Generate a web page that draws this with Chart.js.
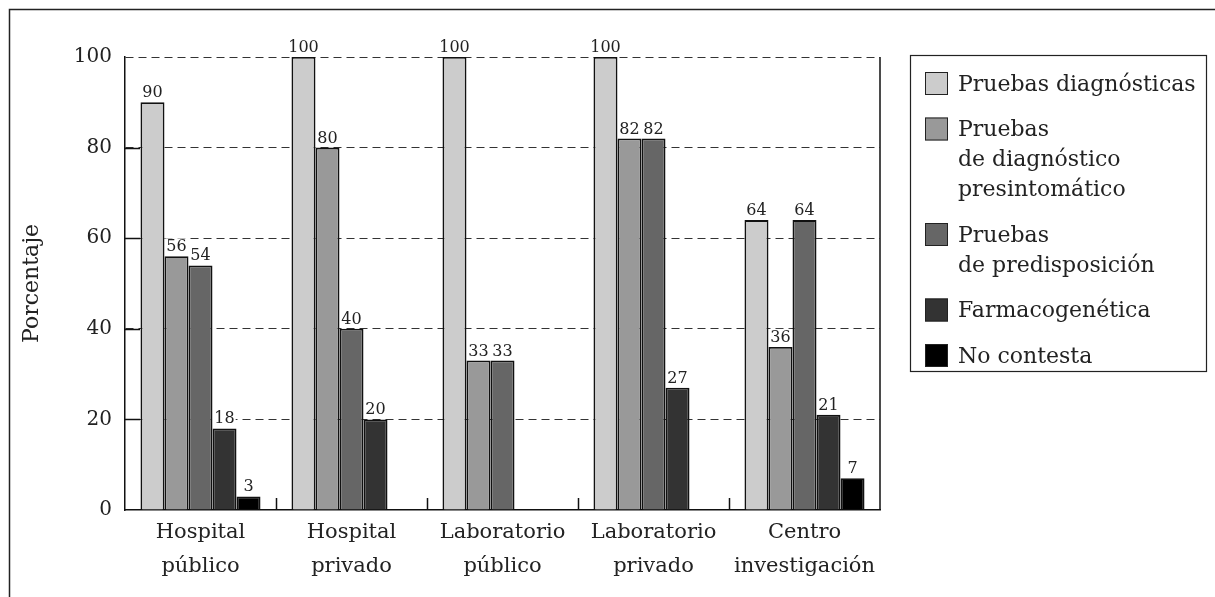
<!DOCTYPE html>
<html lang="es">
<head>
<meta charset="UTF-8" />
<title>Pruebas genéticas por centro</title>
<script src="https://cdn.jsdelivr.net/npm/chart.js"></script>
<style>
  html, body { margin: 0; padding: 0; background: #fff; }
  #wrap { width: 1215px; height: 597px; }
</style>
</head>
<body>
<div id="wrap"><canvas id="grafico" width="1215" height="597"></canvas></div>
<script>
// datos
const categorias = [
    ['Hospital', 'público'],
    ['Hospital', 'privado'],
    ['Laboratorio', 'público'],
    ['Laboratorio', 'privado'],
    ['Centro', 'investigación']
];
const leyenda = [
    ['Pruebas diagnósticas'],
    ['Pruebas', 'de diagnóstico', 'presintomático'],
    ['Pruebas', 'de predisposición'],
    ['Farmacogenética'],
    ['No contesta']
];
const pruebasDiagnosticas   = [90, 100, 100, 100, 64];
const pruebasPresintomatico = [56, 80, 33, 82, 36];
const pruebasPredisposicion = [54, 40, 33, 82, 64];
const farmacogenetica       = [18, 20, 0, 27, 21];
const noContesta            = [3, 0, 0, 0, 7];
const marcasY = [0, 20, 40, 60, 80, 100];

const colores = ['#cccccc', '#999999', '#666666', '#333333', '#000000'];
const valores = [pruebasDiagnosticas, pruebasPresintomatico, pruebasPredisposicion, farmacogenetica, noContesta];
const FUENTE = '"DejaVu Serif", serif';

// marco exterior, marcas interiores y borde derecho
const marcos = {
    id: 'marcos',
    beforeDraw(chart) {
        const ctx = chart.ctx;
        ctx.save();
        ctx.strokeStyle = '#222';
        ctx.lineWidth = 1.5;
        ctx.beginPath();
        ctx.moveTo(9.5, 700);
        ctx.lineTo(9.5, 9.5);
        ctx.lineTo(1300, 9.5);
        ctx.stroke();
        ctx.restore();
    },
    afterDraw(chart) {
        const ctx = chart.ctx, a = chart.chartArea;
        const y = chart.scales.y;
        ctx.save();
        ctx.strokeStyle = '#111';
        ctx.lineWidth = 1.5;
        ctx.beginPath();
        // borde derecho
        ctx.moveTo(a.right, a.top);
        ctx.lineTo(a.right, a.bottom);
        // marcas en Y hacia dentro
        marcasY.forEach(v => {
            if (v === 0 || v === 100) return;
            const py = Math.round(y.getPixelForValue(v)) + 0.5;
            ctx.moveTo(a.left, py);
            ctx.lineTo(a.left + 15, py);
        });
        // separadores entre categorias
        const paso = (a.right - a.left) / categorias.length;
        for (let i = 1; i < categorias.length; i++) {
            const px = Math.round(a.left + paso * i) + 0.5;
            ctx.moveTo(px, a.bottom);
            ctx.lineTo(px, a.bottom - 12);
        }
        ctx.stroke();
        ctx.restore();
    }
};

// etiquetas de valor sobre cada barra
const etiquetas = {
    id: 'etiquetas',
    afterDatasetsDraw(chart) {
        const ctx = chart.ctx;
        ctx.save();
        ctx.font = '16px ' + FUENTE;
        ctx.textAlign = 'center';
        ctx.textBaseline = 'alphabetic';
        chart.data.datasets.forEach((ds, i) => {
            chart.getDatasetMeta(i).data.forEach((bar, j) => {
                const v = ds.data[j];
                if (!v) return;
                const t = String(v);
                const w = ctx.measureText(t).width;
                const by = bar.y - 5;
                ctx.fillStyle = '#fff';
                ctx.fillRect(bar.x - w / 2 - 1, by - 13, w + 2, 14);
                ctx.fillStyle = '#222';
                ctx.fillText(t, bar.x, by);
            });
        });
        ctx.restore();
    }
};

// leyenda en recuadro con textos de varias lineas
const leyendaCaja = {
    id: 'leyendaCaja',
    afterDraw(chart) {
        const ctx = chart.ctx;
        const bx = 910.5, by = 55.5, bw = 296, bh = 316;
        ctx.save();
        ctx.strokeStyle = '#222';
        ctx.lineWidth = 1.2;
        ctx.strokeRect(bx, by, bw, bh);
        ctx.font = '22px ' + FUENTE;
        ctx.textBaseline = 'middle';
        ctx.textAlign = 'left';
        let cy = 83;
        const lh = 30, hueco = 15.5;
        chart.data.datasets.forEach((ds, i) => {
            ctx.fillStyle = ds.backgroundColor;
            ctx.fillRect(925, cy - 11, 23, 23);
            ctx.strokeStyle = '#222';
            ctx.lineWidth = 1;
            ctx.strokeRect(925.5, cy - 10.5, 22, 22);
            ctx.fillStyle = '#222';
            leyenda[i].forEach((linea, k) => {
                ctx.fillText(linea, 958, cy + 2 + k * lh);
            });
            cy += leyenda[i].length * lh + hueco;
        });
        ctx.restore();
    }
};

new Chart(document.getElementById('grafico').getContext('2d'), {
    type: 'bar',
    data: {
        labels: categorias,
        datasets: valores.map((d, i) => ({
            label: leyenda[i].join(' '),
            data: d,
            backgroundColor: colores[i],
            borderColor: '#111',
            borderWidth: 1.8,
            categoryPercentage: 0.795,
            barPercentage: 1
        }))
    },
    options: {
        responsive: false,
        animation: false,
        layout: { padding: { top: 57, right: 335, left: 0, bottom: 0 } },
        plugins: {
            legend: { display: false },
            tooltip: { enabled: false }
        },
        scales: {
            x: {
                grid: { display: false, drawTicks: false },
                border: { display: true, color: '#111', width: 1.5 },
                ticks: {
                    padding: 6,
                    color: '#222',
                    font: { family: FUENTE, size: 21, lineHeight: 1.6 },
                    maxRotation: 0,
                    autoSkip: false
                },
                afterFit: s => { s.height = 87; }
            },
            y: {
                min: 0,
                max: 100,
                afterBuildTicks: s => { s.ticks = marcasY.map(v => ({ value: v })); },
                grid: {
                    drawTicks: false,
                    color: ctx => ctx.tick && ctx.tick.value === 0 ? 'rgba(0,0,0,0)' : '#333',
                    lineWidth: 1
                },
                border: { display: true, color: '#111', width: 1.5, dash: [8, 5] },
                ticks: {
                    padding: 13,
                    color: '#222',
                    font: { family: FUENTE, size: 20 }
                },
                title: {
                    display: true,
                    text: 'Porcentaje',
                    color: '#222',
                    font: { family: FUENTE, size: 22 },
                    padding: { top: 19, bottom: 0 }
                },
                afterFit: s => { s.width = 125; }
            }
        }
    },
    plugins: [marcos, etiquetas, leyendaCaja]
});
</script>
</body>
</html>
